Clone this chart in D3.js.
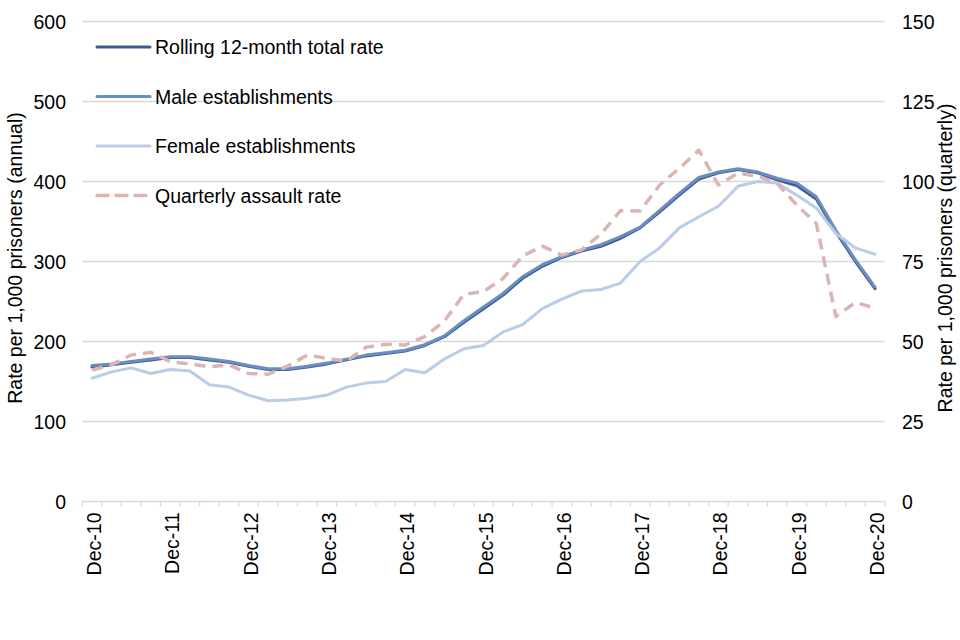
<!DOCTYPE html>
<html>
<head>
<meta charset="utf-8">
<script src="https://cdn.jsdelivr.net/npm/d3@7"></script>
<style>
  body { margin: 0; background: #fff; }
  text { font-family: "Liberation Sans", Arial, sans-serif; fill: #000; }
</style>
</head>
<body>
<svg id="chart" width="960" height="640"></svg>
<script>
// 季度标签 Dec-10 ... Dec-20
var months = ['Dec', 'Mar', 'Jun', 'Sep']
var quarters = []
for (var i = 0; i <= 40; i++) {
  var k = i % 4
  var yr = k === 0 ? 10 + i / 4 : 11 + Math.floor(i / 4)
  quarters.push(months[k] + '-' + yr)
}

// 滚动12个月总比率 (annual)
var totalRate = [168, 171, 174, 177, 180, 180, 177, 174, 169, 165,
  165, 168, 172, 177, 182, 185, 188, 195, 206, 224,
  241, 258, 279, 294, 305, 313, 319, 329, 342, 362,
  383, 403, 411, 415, 411, 402, 395, 378, 337, 300, 266]
// 男性监狱
var maleRate = [170, 172, 175, 178, 181, 181, 178, 175, 170, 166,
  166, 169, 173, 178, 183, 186, 189, 196, 207, 226,
  243, 260, 281, 296, 306, 314, 321, 331, 343, 364,
  385, 405, 412, 416, 412, 404, 398, 381, 339, 302, 268]
// 女性监狱
var femaleRate = [154, 162, 167, 160, 165, 163, 146, 143, 133, 126,
  127, 129, 133, 143, 148, 150, 165, 161, 178, 191,
  195, 212, 221, 241, 253, 263, 265, 273, 300, 317,
  342, 356, 369, 394, 400, 398, 383, 367, 335, 317, 309]
// 季度袭击率 (quarterly, 右轴)
var quarterlyRate = [41.1, 42.7, 45.8, 46.6, 43.7, 43.0, 42.1, 42.7, 40.0, 39.8,
  42.3, 45.8, 44.7, 43.9, 48.2, 49.1, 48.9, 51.5, 56.4, 64.7,
  65.6, 69.7, 76.7, 79.8, 77.0, 78.6, 83.6, 90.9, 90.8, 98.9,
  104.1, 109.8, 98.9, 102.6, 101.7, 99.4, 92.7, 86.9, 57.8, 62.2, 60.4]

var leftTicks = [0, 100, 200, 300, 400, 500, 600]
var rightTicks = [0, 25, 50, 75, 100, 125, 150]

var series = [
  { name: 'Rolling 12-month total rate', values: totalRate, color: '#3d5a8a', axis: 'left', dash: null },
  { name: 'Male establishments', values: maleRate, color: '#6a8ec4', axis: 'left', dash: null },
  { name: 'Female establishments', values: femaleRate, color: '#b9cde6', axis: 'left', dash: null },
  { name: 'Quarterly assault rate', values: quarterlyRate, color: '#dcb4b4', axis: 'right', dash: '11,7' }
]

var fontSize = 19.5
var svg = d3.select('#chart')
var plotLeft = 82.2
var plotRight = 884.8
var plotTop = 21.5
var plotBottom = 501.5

var x = d3.scaleBand().domain(quarters).range([plotLeft, plotRight])
var yL = d3.scaleLinear().domain([0, 600]).range([plotBottom, plotTop])
var yR = d3.scaleLinear().domain([0, 150]).range([plotBottom, plotTop])

// 网格线
svg.append('g')
  .selectAll('line')
  .data(leftTicks.slice(1))
  .join('line')
  .attr('x1', plotLeft)
  .attr('x2', plotRight)
  .attr('y1', function (d) { return yL(d) })
  .attr('y2', function (d) { return yL(d) })
  .attr('stroke', '#d9d9d9')
  .attr('stroke-width', 1.3)

// X轴
var xAxis = svg.append('g').attr('transform', 'translate(0,' + plotBottom + ')')
xAxis.append('line')
  .attr('x1', plotLeft).attr('x2', plotRight)
  .attr('stroke', '#d9d9d9').attr('stroke-width', 1.3)
var boundaries = quarters.map(function (q) { return x(q) }).concat([plotRight])
xAxis.selectAll('line.tick')
  .data(boundaries)
  .join('line')
  .attr('class', 'tick')
  .attr('x1', function (d) { return d })
  .attr('x2', function (d) { return d })
  .attr('y1', 0).attr('y2', 5)
  .attr('stroke', '#d9d9d9').attr('stroke-width', 1.3)
xAxis.selectAll('text')
  .data(quarters.filter(function (q) { return q.indexOf('Dec') === 0 }))
  .join('text')
  .attr('transform', function (d) {
    return 'translate(' + (x(d) + x.bandwidth() / 2 + 9) + ',11) rotate(-90)'
  })
  .attr('text-anchor', 'end')
  .attr('font-size', fontSize)
  .text(function (d) { return d })

// 左轴刻度
svg.append('g')
  .selectAll('text')
  .data(leftTicks)
  .join('text')
  .attr('x', 66)
  .attr('y', function (d) { return yL(d) + 7 })
  .attr('text-anchor', 'end')
  .attr('font-size', fontSize)
  .text(function (d) { return d })

// 右轴刻度
svg.append('g')
  .selectAll('text')
  .data(rightTicks)
  .join('text')
  .attr('x', 902)
  .attr('y', function (d) { return yR(d) + 7 })
  .attr('text-anchor', 'start')
  .attr('font-size', fontSize)
  .text(function (d) { return d })

// 轴标题
svg.append('text')
  .attr('transform', 'translate(22,258) rotate(-90)')
  .attr('text-anchor', 'middle')
  .attr('font-size', fontSize)
  .text('Rate per 1,000 prisoners (annual)')
svg.append('text')
  .attr('transform', 'translate(952,258) rotate(-90)')
  .attr('text-anchor', 'middle')
  .attr('font-size', fontSize)
  .text('Rate per 1,000 prisoners (quarterly)')

// 折线
series.forEach(function (s) {
  var yScale = s.axis === 'left' ? yL : yR
  var line = d3.line()
    .x(function (d, i) { return x(quarters[i]) + x.bandwidth() / 2 })
    .y(function (d) { return yScale(d) })
  svg.append('path')
    .datum(s.values)
    .attr('d', line)
    .attr('fill', 'none')
    .attr('stroke', s.color)
    .attr('stroke-width', s.dash ? 3.5 : 3)
    .attr('stroke-linejoin', 'round')
    .attr('stroke-linecap', s.dash ? 'butt' : 'round')
    .attr('stroke-dasharray', s.dash)
})

// 图例
var legend = svg.append('g')
series.forEach(function (s, i) {
  var ly = 47 + i * 49.5
  legend.append('line')
    .attr('x1', 97).attr('x2', 150)
    .attr('y1', ly).attr('y2', ly)
    .attr('stroke', s.color)
    .attr('stroke-width', s.dash ? 3.5 : 3)
    .attr('stroke-linecap', 'round')
    .attr('stroke-dasharray', s.dash ? '11,8' : null)
  legend.append('text')
    .attr('x', 155)
    .attr('y', ly + 7)
    .attr('font-size', fontSize)
    .text(s.name)
})
</script>
</body>
</html>
